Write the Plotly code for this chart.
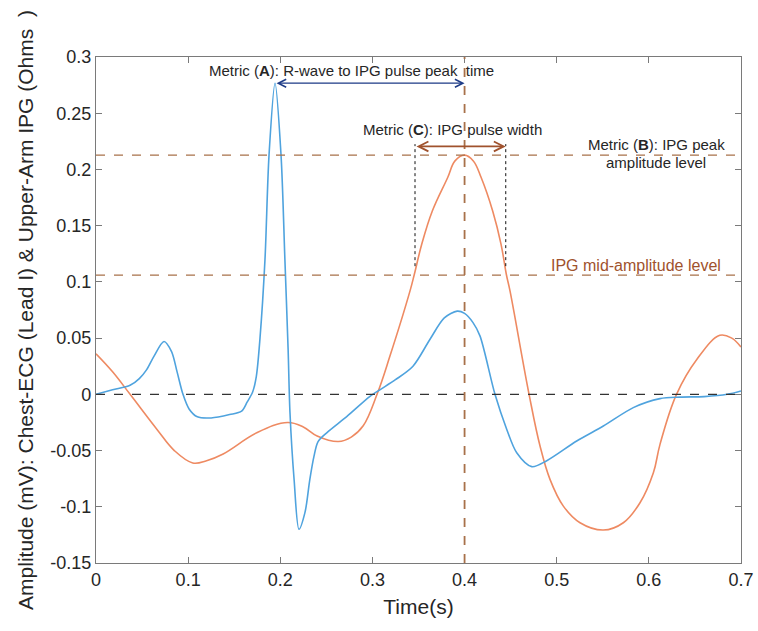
import plotly.graph_objects as go

# Chest-ECG (Lead I), mV
ecg_t = [0.0, 0.018, 0.037, 0.047, 0.055, 0.063, 0.0738, 0.082, 0.088, 0.0944, 0.101, 0.110,
         0.125, 0.145, 0.158, 0.164, 0.170, 0.174, 0.178, 0.1834, 0.1878, 0.1943, 0.2008,
         0.205, 0.2085, 0.2105, 0.215, 0.2203, 0.2268, 0.232, 0.2366, 0.241, 0.2507, 0.2724,
         0.297, 0.308, 0.325, 0.344, 0.3625, 0.378, 0.392, 0.400, 0.409, 0.4167, 0.433,
         0.4457, 0.4566, 0.4729, 0.4892, 0.5217, 0.5506, 0.5831, 0.6121, 0.634, 0.66, 0.685, 0.7]
ecg_v = [0.0, 0.004, 0.008, 0.014, 0.022, 0.034, 0.047, 0.038, 0.020, 0.0, -0.013, -0.020,
         -0.021, -0.018, -0.015, -0.007, 0.002, 0.016, 0.05, 0.12, 0.213, 0.2767, 0.213,
         0.12, 0.04, -0.016, -0.076, -0.120, -0.105, -0.076, -0.055, -0.042, -0.034, -0.0196,
         -0.002, 0.004, 0.013, 0.025, 0.049, 0.068, 0.074, 0.072, 0.064, 0.052, 0.0,
         -0.031, -0.052, -0.0643, -0.059, -0.0415, -0.0282, -0.0118, -0.0038, -0.0025, -0.002, 0.0, 0.003]

# Upper-arm IPG, Ohms
ipg_t = [0.0, 0.018, 0.037, 0.066, 0.085, 0.105, 0.12, 0.138, 0.175, 0.208, 0.225, 0.240,
         0.263, 0.277, 0.290, 0.305, 0.319, 0.3408, 0.3455, 0.3535, 0.365, 0.3817, 0.3896,
         0.400, 0.4095, 0.418, 0.4305, 0.4396, 0.4453, 0.4493, 0.470, 0.4819, 0.4927, 0.5072,
         0.5253, 0.5506, 0.5723, 0.5904, 0.6049, 0.6121, 0.630, 0.652, 0.677, 0.69, 0.7]
ipg_v = [0.036, 0.02, 0.0, -0.031, -0.050, -0.061, -0.059, -0.053, -0.034, -0.025, -0.029,
         -0.037, -0.042, -0.038, -0.028, 0.0, 0.034, 0.092, 0.1068, 0.1334, 0.163, 0.1928, 0.2076,
         0.2127, 0.2076, 0.1928, 0.163, 0.1334, 0.1068, 0.092, 0.0, -0.046, -0.0756, -0.0994,
         -0.1142, -0.1207, -0.1142, -0.0964, -0.0697, -0.0445, 0.0, 0.031, 0.0525, 0.05, 0.042]

# Metric levels and times
r_peak_t, r_peak_v = 0.1943, 0.2767
ipg_peak_t, ipg_peak_v = 0.400, 0.2127
ipg_mid_v = 0.106
width_left_t, width_right_t = 0.3462, 0.4447
width_arrow_v = 0.2205

x_ticks = [0, 0.1, 0.2, 0.3, 0.4, 0.5, 0.6, 0.7]
x_ticktext = ["0", "0.1", "0.2", "0.3", "0.4", "0.5", "0.6", "0.7"]
y_ticks = [-0.15, -0.1, -0.05, 0, 0.05, 0.1, 0.15, 0.2, 0.25, 0.3]
y_ticktext = ["-0.15", "-0.1", "-0.05", "0", "0.05", "0.1", "0.15", "0.2", "0.25", "0.3"]

BLUE = "#4FA3DE"
ORANGE = "#EE8A62"
BROWN = "#A8714A"
BROWN_DARK = "#A0522D"
NAVY = "#1C3A86"
TEXT = "#262626"
FONT = "Liberation Sans, Arial, sans-serif"

fig = go.Figure()

fig.add_trace(go.Scatter(x=ipg_t, y=ipg_v, mode="lines",
                         line=dict(color=ORANGE, width=1.6, shape="spline", smoothing=1.1),
                         hoverinfo="skip", showlegend=False))
fig.add_trace(go.Scatter(x=ecg_t, y=ecg_v, mode="lines",
                         line=dict(color=BLUE, width=1.6, shape="spline", smoothing=0.85),
                         hoverinfo="skip", showlegend=False))

shapes = [
    # zero baseline
    dict(type="line", xref="paper", yref="y", x0=0, x1=1, y0=0, y1=0,
         line=dict(color="#333333", width=1.3, dash="dash")),
    # IPG peak amplitude level
    dict(type="line", xref="paper", yref="y", x0=0, x1=1, y0=ipg_peak_v, y1=ipg_peak_v,
         line=dict(color=BROWN, width=1.3, dash="dash")),
    # IPG mid-amplitude level
    dict(type="line", xref="paper", yref="y", x0=0, x1=1, y0=ipg_mid_v, y1=ipg_mid_v,
         line=dict(color=BROWN, width=1.3, dash="dash")),
    # IPG peak time
    dict(type="line", xref="x", yref="paper", x0=ipg_peak_t, x1=ipg_peak_t, y0=0, y1=1,
         line=dict(color=BROWN, width=1.8, dash="dash")),
    # pulse width bounds
    dict(type="line", xref="x", yref="y", x0=width_left_t, x1=width_left_t,
         y0=0.114, y1=width_arrow_v + 0.002, line=dict(color="#111111", width=1, dash="dot")),
    dict(type="line", xref="x", yref="y", x0=width_right_t, x1=width_right_t,
         y0=0.114, y1=width_arrow_v + 0.002, line=dict(color="#111111", width=1, dash="dot")),
]

annotations = [
    # Metric A arrow
    dict(x=ipg_peak_t, y=r_peak_v, ax=r_peak_t, ay=r_peak_v, xref="x", yref="y",
         axref="x", ayref="y", text="", showarrow=True, arrowhead=5, startarrowhead=5,
         arrowside="end+start", arrowsize=1.2, startarrowsize=1.2, arrowwidth=1.3,
         arrowcolor=NAVY),
    # Metric C arrow
    dict(x=width_right_t, y=width_arrow_v, ax=width_left_t, ay=width_arrow_v, xref="x", yref="y",
         axref="x", ayref="y", text="", showarrow=True, arrowhead=5, startarrowhead=5,
         arrowside="end+start", arrowsize=1.2, startarrowsize=1.2, arrowwidth=1.6,
         arrowcolor=BROWN_DARK),
    dict(x=0.2778, y=0.2876, xref="x", yref="y", showarrow=False,
         text="Metric (<b>A</b>): R-wave to IPG pulse peak\u00a0\u00a0time",
         font=dict(family=FONT, size=15, color=TEXT)),
    dict(x=0.3869, y=0.2358, xref="x", yref="y", showarrow=False,
         text="Metric (<b>C</b>): IPG pulse width",
         font=dict(family=FONT, size=15, color=TEXT)),
    dict(x=0.6078, y=0.2224, xref="x", yref="y", showarrow=False,
         text="Metric (<b>B</b>): IPG peak",
         font=dict(family=FONT, size=15, color=TEXT)),
    dict(x=0.6078, y=0.2064, xref="x", yref="y", showarrow=False,
         text="amplitude level",
         font=dict(family=FONT, size=15, color=TEXT)),
    dict(x=0.586, y=0.1148, xref="x", yref="y", showarrow=False,
         text="IPG mid-amplitude level",
         font=dict(family=FONT, size=16, color=BROWN_DARK)),
]

axis_common = dict(showgrid=False, zeroline=False, showline=True, linecolor="#7a7a7a",
                   linewidth=1.3, mirror="ticks", ticks="inside", ticklen=6,
                   tickcolor="#7a7a7a", tickwidth=1.3, automargin=False,
                   tickfont=dict(family=FONT, size=18, color=TEXT))

fig.update_layout(
    width=758, height=631,
    margin=dict(l=96, r=17, t=57, b=68, autoexpand=False),
    paper_bgcolor="white", plot_bgcolor="white",
    shapes=shapes, annotations=annotations,
    xaxis=dict(range=[0, 0.7], tickvals=x_ticks, ticktext=x_ticktext,
               title=dict(text="Time(s)", font=dict(family=FONT, size=21, color=TEXT), standoff=10),
               **axis_common),
    yaxis=dict(range=[-0.15, 0.3], tickvals=y_ticks, ticktext=y_ticktext,
               title=dict(text="Amplitude (mV): Chest-ECG (Lead I) & Upper-Arm IPG (Ohms\u00a0\u00a0)",
                          font=dict(family=FONT, size=21, color=TEXT), standoff=10),
               **axis_common),
)

fig.write_html("out.html")
